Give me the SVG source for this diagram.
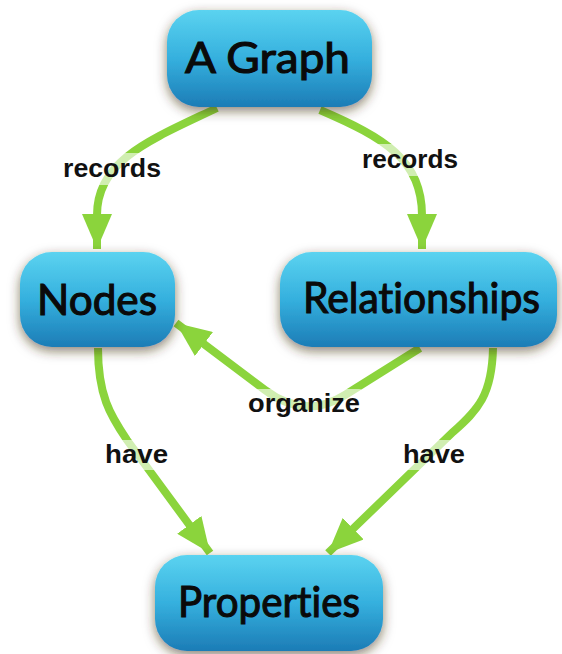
<svg xmlns="http://www.w3.org/2000/svg" width="562" height="654" viewBox="0 0 562 654">
<style>
.node{fill:url(#g);filter:url(#sh)}
.nt{font-family:Lato,"Noto Sans",sans-serif;font-weight:400;font-size:42px;fill:#0a0a0a;stroke:#0a0a0a;stroke-width:1.1;font-variant-ligatures:none;font-feature-settings:"liga" 0}
.edge{fill:none;stroke:#8bd43c;stroke-width:8;stroke-linecap:butt}
.lbg{fill:#fff;fill-opacity:0.6}
.lt{font-family:"Liberation Sans",Arial,sans-serif;font-weight:700;font-size:25px;fill:#111}
</style>
<defs>
<linearGradient id="g" x1="0" y1="0" x2="0" y2="1">
<stop offset="0" stop-color="#5bd3f0"/>
<stop offset="0.5" stop-color="#35b0de"/>
<stop offset="1" stop-color="#1c7cb6"/>
</linearGradient>
<filter id="sh" x="-20%" y="-30%" width="140%" height="170%">
<feDropShadow dx="0" dy="4" stdDeviation="6" flood-color="#3b2c14" flood-opacity="0.6"/>
</filter>
<marker id="ah" markerUnits="userSpaceOnUse" markerWidth="36" markerHeight="30" refX="35" refY="15" orient="auto" viewBox="0 0 36 30">
<path d="M0,0 L35,15 L0,30 z" fill="#8bd43c"/>
</marker>
</defs>
<rect width="562" height="654" fill="#fff"/>
<g id="connectors">
<path class="edge" d="M217,108 C150,140 97,160 97,215 L97,249" marker-end="url(#ah)"/>
<path class="edge" d="M320,110 C385,138 422,160 422,215 L422,249" marker-end="url(#ah)"/>
<path class="edge" d="M420,348 L345,395 Q305,420 265,390 L176,323" marker-end="url(#ah)"/>
<path class="edge" d="M98,348 C98,395 110,415 127,440 L210,553" marker-end="url(#ah)"/>
<path class="edge" d="M493,348 C492,395 478,410 453,432 L328,553" marker-end="url(#ah)"/>
<g id="labels">
<rect class="lbg" x="60" y="153" width="104" height="32" rx="4"/>
<text class="lt" x="63" y="177" textLength="98" lengthAdjust="spacingAndGlyphs">records</text>
<rect class="lbg" x="359" y="144" width="102" height="32" rx="4"/>
<text class="lt" x="362" y="168" textLength="96" lengthAdjust="spacingAndGlyphs">records</text>
<rect class="lbg" x="245" y="389" width="118" height="32" rx="4"/>
<text class="lt" x="248" y="412" textLength="112" lengthAdjust="spacingAndGlyphs">organize</text>
<rect class="lbg" x="102" y="440" width="69" height="30" rx="4"/>
<text class="lt" x="105" y="463" textLength="63" lengthAdjust="spacingAndGlyphs">have</text>
<rect class="lbg" x="400" y="440" width="68" height="30" rx="4"/>
<text class="lt" x="403" y="463" textLength="62" lengthAdjust="spacingAndGlyphs">have</text>
</g>
</g>
<g id="n-graph">
<rect class="node" x="167" y="10" width="205" height="97" rx="32"/>
<text class="nt" x="185" y="73" textLength="165" lengthAdjust="spacingAndGlyphs">A Graph</text>
</g>
<g id="n-nodes">
<rect class="node" x="20" y="252" width="155" height="95" rx="32"/>
<text class="nt" x="37" y="315" textLength="120" lengthAdjust="spacingAndGlyphs">Nodes</text>
</g>
<g id="n-rel">
<rect class="node" x="280" y="252" width="277" height="95" rx="32"/>
<text class="nt" x="303" y="313" textLength="237" lengthAdjust="spacingAndGlyphs">Relationships</text>
</g>
<g id="n-props">
<rect class="node" x="155" y="555" width="228" height="96" rx="32"/>
<text class="nt" x="178" y="617" textLength="182" lengthAdjust="spacingAndGlyphs">Properties</text>
</g>
</svg>
